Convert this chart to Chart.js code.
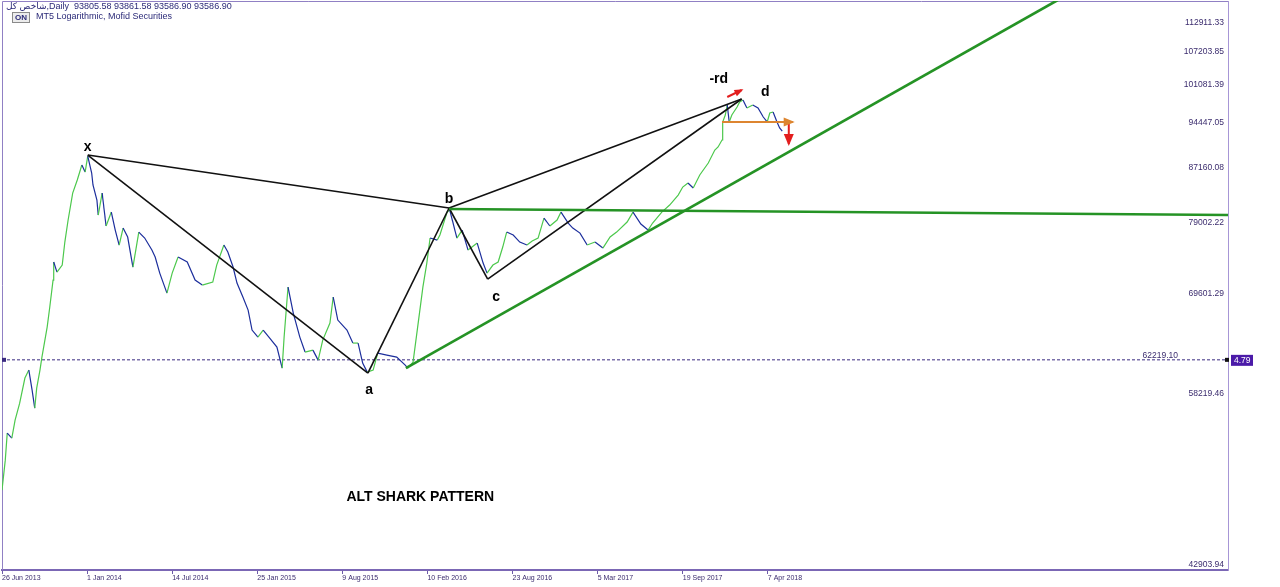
<!DOCTYPE html>
<html>
<head>
<meta charset="utf-8">
<script src="https://cdn.jsdelivr.net/npm/chart.js@4.4.1/dist/chart.umd.min.js"></script>
<style>
html, body { margin: 0; padding: 0; background: #fff; }
#wrap { position: relative; width: 1280px; height: 587px; overflow: hidden; }
#head1 { position: absolute; left: 6px; top: 1px; font: 9px "Liberation Sans", "DejaVu Sans", sans-serif; color: #2b2a78; white-space: nowrap; line-height: 11px; }
#head2 { position: absolute; left: 36px; top: 11px; font: 9px "Liberation Sans", "DejaVu Sans", sans-serif; color: #2b2a78; white-space: nowrap; line-height: 11px; }
#onbox { position: absolute; left: 12px; top: 12px; width: 16px; height: 9px; border: 1px solid #8a8a8a; background: #ececec; font: bold 8px "Liberation Sans", sans-serif; color: #2b2a78; text-align: center; line-height: 9px; }
</style>
</head>
<body>
<div id="wrap">
	<canvas id="chart" width="1280" height="587"></canvas>
	<div id="head1">شاخص کل,Daily&nbsp; 93805.58 93861.58 93586.90 93586.90</div>
	<div id="onbox">ON</div>
	<div id="head2">MT5 Logarithmic, Mofid Securities</div>
</div>
<script>
// x axis in bar index, y axis in index points (log)
const xTickBars = [0, 130, 260, 390, 520, 650, 780, 910, 1040, 1170];
const xTickLabels = ['26 Jun 2013', '1 Jan 2014', '14 Jul 2014', '25 Jan 2015', '9 Aug 2015',
	'10 Feb 2016', '23 Aug 2016', '5 Mar 2017', '19 Sep 2017', '7 Apr 2018'];
const yTickValues = [112911.33, 107203.85, 101081.39, 94447.05, 87160.08, 79002.22, 69601.29, 58219.46, 42903.94];

const days = [0, 5, 8, 15, 20, 27, 35, 41, 46, 50,
	53, 58, 61, 69, 73, 78, 79, 84, 92, 96,
	101, 108, 115, 122, 127, 131, 137, 139, 145, 147,
	153, 159, 167, 173, 179, 185, 192, 200, 209, 218,
	229, 234, 241, 252, 260, 269, 283, 295, 306, 322,
	328, 339, 345, 353, 359, 368, 376, 382, 391, 399,
	409, 420, 428, 431, 437, 445, 455, 463, 475, 483,
	490, 501, 506, 513, 527, 536, 544, 551, 558, 567,
	574, 588, 603, 616, 620, 628, 635, 643, 649, 654,
	665, 669, 680, 684, 695, 703, 712, 726, 735, 741,
	750, 758, 765, 771, 781, 791, 802, 810, 819, 828,
	837, 848, 854, 865, 872, 883, 894, 906, 918, 929,
	939, 955, 964, 976, 987, 994, 1008, 1020, 1033, 1040,
	1048, 1056, 1066, 1079, 1089, 1094, 1100, 1101, 1105, 1108,
	1111, 1115, 1123, 1127, 1132, 1138, 1147, 1155, 1163, 1169,
	1173, 1178, 1184, 1188, 1192];
const closes = [49310, 52020, 54590, 54110, 55870, 57590, 60230, 61090, 58950, 57080,
	59160, 61090, 62530, 65970, 68370, 71740, 74090, 72770, 73690, 76780,
	79860, 83800, 85770, 88100, 87000, 89520, 86850, 85010, 82760, 80570,
	83800, 79010, 81000, 78440, 76370, 78720, 77470, 73430, 78160, 77330,
	75690, 74750, 72640, 70090, 72640, 74750, 74090, 71740, 71100, 71490,
	73690, 76370, 75420, 73430, 71360, 69600, 68000, 65620, 64800, 65620,
	64690, 63650, 61310, 64800, 70850, 67640, 64800, 63090, 63310, 62190,
	64450, 66440, 69600, 66800, 65620, 64110, 64110, 61860, 60870, 61090,
	62970, 62750, 62530, 61640, 61310, 61970, 65970, 70850, 73950, 77330,
	77050, 77750, 81000, 81300, 77330, 78440, 75690, 76640, 73950, 72640,
	73690, 74090, 76100, 78160, 77750, 76780, 76370, 76920, 77330, 80140,
	79010, 79860, 81000, 79430, 78720, 78020, 76370, 76780, 75960, 77470,
	78160, 79570, 81000, 79290, 78440, 79430, 81000, 82020, 83500, 84700,
	85310, 84550, 86540, 88410, 90490, 90980, 92120, 95130, 96320, 98060,
	95130, 96320, 97710, 98580, 98940, 97540, 98060, 97540, 95980, 95130,
	96670, 96840, 95130, 94120, 93590];

// harmonic pattern pivots x, a, b, c, d
const pivotBars = [131, 559, 683, 742, 1130];
const pivotPrices = [89680, 60760, 81590, 71870, 99120];
const pivotLinks = [[0, 1], [0, 2], [1, 2], [2, 3], [3, 4], [2, 4]];

const trendBars = [617, 1613];
const trendPrices = [61310, 118275];
const flatBars = [683, 1873];
const flatPrices = [81440, 80570];
const levelPrice = 62219.10;
const levelTag = '4.79';

const orangeBars = [1100, 1208];
const orangePrices = [95130, 95130];
const redUpBars = [1108, 1130];
const redUpPrices = [99470, 100720];
const redDownBars = [1202, 1202];
const redDownPrices = [94955, 91460];

const labelTexts = ['x', 'a', 'b', 'c', 'd', '-rd', 'ALT SHARK PATTERN'];
const labelBars = [131, 561, 683, 755, 1166, 1095, 639];
const labelPrices = [90980, 58950, 82900, 69600, 100360, 102720, 48700];

const yMin = 42756;
const yMax = 118065;
const xMax = 1873;

const GREEN = '#4cc84c';
const BLUE = '#1c2e9c';
const AXIS = '#3b2c6e';

function pts(bars, prices) {
	return bars.map((b, i) => ({ x: b, y: prices[i] }));
}

const datasets = [];
datasets.push({
	data: pts(days, closes),
	borderWidth: 1.2,
	borderColor: GREEN,
	segment: {
		borderColor: (c) => c.p1.parsed.y >= c.p0.parsed.y ? GREEN : BLUE
	},
	pointRadius: 0,
	order: 5
});
datasets.push({
	data: pts([0, xMax], [levelPrice, levelPrice]),
	borderWidth: 1, borderColor: '#3a2a80', borderDash: [3, 2], pointRadius: 0, order: 6
});
pivotLinks.forEach(([i, j]) => {
	datasets.push({
		data: pts([pivotBars[i], pivotBars[j]], [pivotPrices[i], pivotPrices[j]]),
		borderWidth: 1.6, borderColor: '#111', pointRadius: 0, order: 2
	});
});
datasets.push({ data: pts(trendBars, trendPrices), borderWidth: 2.6, borderColor: '#259325', pointRadius: 0, order: 1 });
datasets.push({ data: pts(flatBars, flatPrices), borderWidth: 2.6, borderColor: '#259325', pointRadius: 0, order: 1 });
datasets.push({ data: pts(orangeBars, orangePrices), borderWidth: 2, borderColor: '#dd8530', pointRadius: 0, order: 1, arrow: 9 });
datasets.push({ data: pts(redUpBars, redUpPrices), borderWidth: 2, borderColor: '#e31e1e', pointRadius: 0, order: 1, arrow: 7 });
datasets.push({ data: pts(redDownBars, redDownPrices), borderWidth: 2, borderColor: '#e31e1e', pointRadius: 0, order: 1, arrow: 10 });

const overlay = {
	id: 'overlay',
	beforeDatasetsDraw(chart) {
		const { ctx, chartArea: a } = chart;
		ctx.save();
		ctx.strokeStyle = '#9080c4';
		ctx.lineWidth = 1;
		ctx.beginPath();
		ctx.moveTo(a.left + 0.5, a.bottom);
		ctx.lineTo(a.left + 0.5, a.top + 0.5);
		ctx.lineTo(a.right, a.top + 0.5);
		ctx.stroke();
		ctx.restore();
	},
	afterDatasetsDraw(chart) {
		const { ctx, chartArea: a, scales: { x, y } } = chart;
		ctx.save();
		// arrow heads
		chart.data.datasets.forEach((ds, i) => {
			if (!ds.arrow) return;
			const pe = chart.getDatasetMeta(i).data;
			const p0 = pe[pe.length - 2], p1 = pe[pe.length - 1];
			const ang = Math.atan2(p1.y - p0.y, p1.x - p0.x);
			const L = ds.arrow, W = ds.arrow * 0.5;
			ctx.fillStyle = ds.borderColor;
			ctx.beginPath();
			ctx.moveTo(p1.x + Math.cos(ang) * 2, p1.y + Math.sin(ang) * 2);
			ctx.lineTo(p1.x - Math.cos(ang) * L + Math.sin(ang) * W, p1.y - Math.sin(ang) * L - Math.cos(ang) * W);
			ctx.lineTo(p1.x - Math.cos(ang) * L - Math.sin(ang) * W, p1.y - Math.sin(ang) * L + Math.cos(ang) * W);
			ctx.closePath();
			ctx.fill();
		});
		// level line label and tag
		const ly = y.getPixelForValue(levelPrice);
		ctx.font = '8.5px "Liberation Sans", sans-serif';
		ctx.fillStyle = AXIS;
		ctx.textAlign = 'right';
		ctx.textBaseline = 'alphabetic';
		ctx.fillText(levelPrice.toFixed(2), a.right - 50, ly - 2);
		ctx.fillStyle = '#3a2a80';
		ctx.fillRect(a.left, ly - 2, 4, 4);
		ctx.fillStyle = '#111';
		ctx.fillRect(a.right - 3, ly - 2, 4, 4);
		ctx.fillStyle = '#4b1aa8';
		ctx.fillRect(a.right + 3, ly - 5, 22, 11);
		ctx.fillStyle = '#fff';
		ctx.textAlign = 'left';
		ctx.textBaseline = 'middle';
		ctx.fillText(levelTag, a.right + 6, ly + 0.5);
		// pattern labels
		ctx.fillStyle = '#000';
		ctx.textAlign = 'center';
		labelTexts.forEach((t, i) => {
			ctx.font = 'bold 14px "Liberation Sans", Arial, sans-serif';
			ctx.fillText(t, x.getPixelForValue(labelBars[i]), y.getPixelForValue(labelPrices[i]));
		});
		ctx.restore();
	}
};

new Chart(document.getElementById('chart'), {
	type: 'line',
	data: { datasets },
	options: {
		responsive: false,
		animation: false,
		events: [],
		layout: { padding: { left: 2, top: 1, right: 52, bottom: 0 } },
		plugins: { legend: { display: false }, tooltip: { enabled: false } },
		scales: {
			x: {
				type: 'linear',
				min: 0,
				max: xMax,
				afterBuildTicks: (s) => { s.ticks = xTickBars.map((v) => ({ value: v })); },
				afterFit: (s) => { s.height = 17; s.paddingLeft = 0; s.paddingRight = 0; },
				grid: { drawOnChartArea: false, drawTicks: true, tickLength: 4, color: '#6d5aa8' },
				border: { display: true, color: '#7b67b5', width: 2 },
				ticks: {
					align: 'start', padding: 0, maxRotation: 0, autoSkip: false, color: AXIS,
					font: { family: 'Liberation Sans', size: 7 },
					callback: (v) => xTickLabels[xTickBars.indexOf(v)]
				}
			},
			y: {
				type: 'logarithmic',
				position: 'right',
				min: yMin,
				max: yMax,
				afterBuildTicks: (s) => { s.ticks = yTickValues.map((v) => ({ value: v })); },
				afterFit: (s) => { s.width = 0; s.paddingTop = 0; s.paddingBottom = 0; },
				grid: { display: false },
				border: { display: true, color: '#a796d6', width: 1 },
				ticks: {
					mirror: true, padding: -4, labelOffset: -3, color: AXIS,
					font: { family: 'Liberation Sans', size: 8.5 },
					callback: (v) => Number(v).toFixed(2)
				}
			}
		}
	},
	plugins: [overlay]
});
</script>
</body>
</html>
